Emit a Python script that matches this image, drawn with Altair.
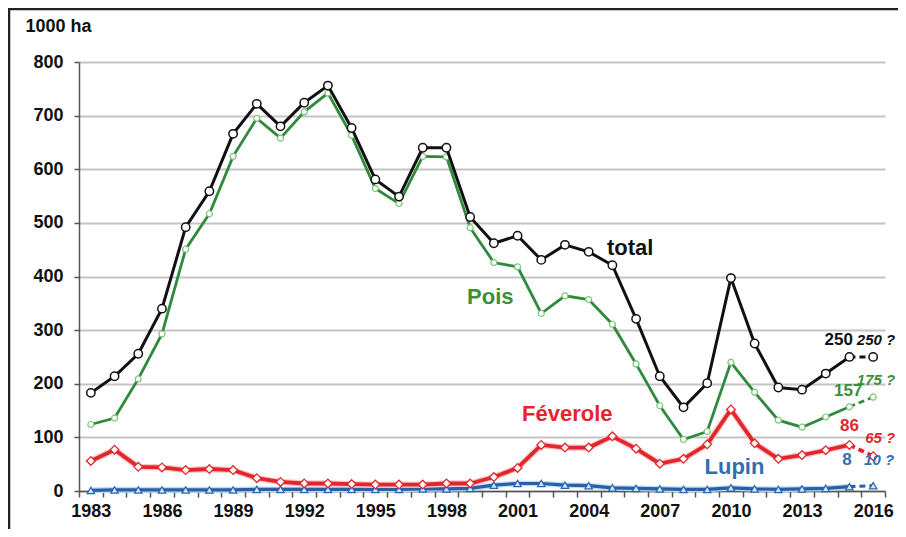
import altair as alt
import pandas as pd

years = list(range(1983, 2017))
total = [183, 214, 256, 340, 492, 559, 666, 722, 680, 724, 756, 677, 581, 549, 640, 640, 511,
         462, 476, 431, 459, 446, 421, 321, 214, 156, 201, 397, 275, 193, 189, 219, 250, 250]
pois = [124, 136, 209, 293, 451, 517, 624, 695, 658, 707, 742, 663, 564, 536, 624, 623, 491,
        426, 418, 331, 364, 357, 311, 237, 159, 96, 111, 240, 184, 132, 119, 138, 157, 175]
feverole = [56, 77, 45, 44, 39, 41, 39, 24, 17, 14, 14, 13, 12, 12, 12, 14, 14,
            26, 43, 86, 81, 81, 102, 79, 51, 60, 87, 152, 89, 60, 67, 76, 86, 65]
lupin = [1, 2, 2, 2, 2, 2, 2, 3, 3, 3, 3, 3, 3, 3, 4, 4, 5,
         11, 14, 14, 11, 10, 6, 5, 4, 3, 3, 6, 4, 3, 4, 5, 8, 10]

# series labels
lab_text = ["total", "Pois", "Féverole", "Lupin"]
lab_year = [2005.75, 1999.85, 2003.1, 2010.15]
lab_value = [454, 361, 143, 45]

# end values
num_text = ["250", "157", "86", "8"]
num_serie = ["total", "Pois", "Féverole", "Lupin"]
num_year = [2014.55, 2014.95, 2015.0, 2014.9]
num_value = [281, 187, 121, 57]

q_text = ["250 ?", "175 ?", "65 ?", "10 ?"]
q_serie = ["total", "Pois", "Féverole", "Lupin"]
q_year = [2016.12, 2016.12, 2016.3, 2016.25]
q_value = [281, 207, 98, 57]

tick_years = [1982.5 + i for i in range(35)]

colors = {"total": "#111111", "Pois": "#2f8a3c", "Féverole": "#e3262b", "Lupin": "#2a5fa8"}
halo = {"Féverole": "#f8c8c8", "Lupin": "#b8def3"}
txt_colors = {"total": "#111111", "Pois": "#3a8f3a", "Féverole": "#e3262b", "Lupin": "#2f6fb3"}

rows = []
for name, vals in [("total", total), ("Pois", pois), ("Féverole", feverole), ("Lupin", lupin)]:
    for yr, v in zip(years, vals):
        rows.append({"serie": name, "year": yr, "value": v})
df = pd.DataFrame(rows)

lab_df = pd.DataFrame({"text": lab_text, "serie": lab_text, "year": lab_year, "value": lab_value})
num_df = pd.DataFrame({"text": num_text, "serie": num_serie, "year": num_year, "value": num_value})
q_df = pd.DataFrame({"text": q_text, "serie": q_serie, "year": q_year, "value": q_value})

FONT = "Liberation Sans"

x_enc = alt.X(
    "year:Q",
    scale=alt.Scale(domain=[1982.5, 2016.5], nice=False, zero=False),
    axis=alt.Axis(
        values=tick_years,
        labelExpr="(round(datum.value + 0.5) - 1983) % 3 == 0 ? '' + round(datum.value + 0.5) : ''",
        labelOffset=11.85,
        labelFlush=False,
        labelOverlap=False,
        labelFontSize=18,
        labelFontWeight="bold",
        labelColor="#111",
        labelPadding=5,
        tickSize=6,
        tickColor="#555",
        tickWidth=1.5,
        domainColor="#555",
        domainWidth=1.5,
        grid=False,
        title=None,
    ),
)
y_enc = alt.Y(
    "value:Q",
    scale=alt.Scale(domain=[0, 800], nice=False),
    axis=alt.Axis(
        values=list(range(0, 801, 100)),
        labelFontSize=18,
        labelFontWeight="bold",
        labelColor="#111",
        labelPadding=11,
        tickSize=5,
        tickColor="#555",
        tickWidth=1.5,
        domainColor="#555",
        domainWidth=1.5,
        grid=True,
        gridColor="#c4c4c4",
        gridWidth=2,
        title="1000 ha",
        titleAngle=0,
        titleAlign="left",
        titleBaseline="alphabetic",
        titleX=-54,
        titleY=-31,
        titleFontSize=18,
        titleFontWeight="bold",
        titleColor="#111",
    ),
)

color_scale = alt.Scale(domain=list(txt_colors.keys()), range=list(txt_colors.values()))

marker = {
    "total": dict(shape="circle", size=70, fill="white", stroke="#111111", strokeWidth=1.5),
    "Pois": dict(shape="circle", size=36, fill="white", stroke="#7cc47c", strokeWidth=1.2),
    "Féverole": dict(shape="diamond", size=75, fill="white", stroke="#e3262b", strokeWidth=1.3),
    "Lupin": dict(shape="triangle-up", size=55, fill="#cfeaf7", stroke="#2a64ad", strokeWidth=1.2),
}
widths = {"total": 3, "Pois": 2.8, "Féverole": 3.8, "Lupin": 3.2}

layers = []
for name in ["Lupin", "Féverole", "Pois", "total"]:
    base = alt.Chart(df).transform_filter(alt.datum.serie == name)
    if name in halo:
        layers.append(
            base.transform_filter(alt.datum.year <= 2015)
            .mark_line(color=halo[name], strokeWidth=widths[name] + 2.5)
            .encode(x=x_enc, y=y_enc)
        )
    layers.append(
        base.transform_filter(alt.datum.year <= 2015)
        .mark_line(color=colors[name], strokeWidth=widths[name])
        .encode(x=x_enc, y=y_enc)
    )
    layers.append(
        base.transform_filter(alt.datum.year >= 2015)
        .mark_line(color=colors[name], strokeWidth=widths[name], strokeDash=[6, 4])
        .encode(x=x_enc, y=y_enc)
    )
    m = marker[name]
    layers.append(
        base.mark_point(
            filled=True, shape=m["shape"], size=m["size"], fill=m["fill"], stroke=m["stroke"],
            strokeWidth=m["strokeWidth"], opacity=1, fillOpacity=1,
        ).encode(x=x_enc, y=y_enc)
    )

layers.append(
    alt.Chart(lab_df).mark_text(font=FONT, fontSize=22, fontWeight="bold", align="center", baseline="middle")
    .encode(x=x_enc, y=y_enc, text="text:N", color=alt.Color("serie:N", scale=color_scale, legend=None))
)
layers.append(
    alt.Chart(num_df).mark_text(font=FONT, fontSize=17, fontWeight="bold", align="center", baseline="middle")
    .encode(x=x_enc, y=y_enc, text="text:N", color=alt.Color("serie:N", scale=color_scale, legend=None))
)
layers.append(
    alt.Chart(q_df).mark_text(font=FONT, fontSize=15, fontWeight="bold", fontStyle="italic",
                              align="center", baseline="middle")
    .encode(x=x_enc, y=y_enc, text="text:N", color=alt.Color("serie:N", scale=color_scale, legend=None))
)

frame = pd.DataFrame({"k": [0]})
top_line = alt.Chart(frame).mark_rule(color="#222222", strokeWidth=2.5).encode(
    x=alt.value(-71), x2=alt.value(1000), y=alt.value(-53)
)
left_line = alt.Chart(frame).mark_rule(color="#222222", strokeWidth=2.5).encode(
    x=alt.value(-70), y=alt.value(-54), y2=alt.value(1000)
)
layers += [top_line, left_line]

chart = (
    alt.layer(*layers)
    .properties(
        width=806,
        height=429,
        autosize=alt.AutoSizeParams(type="none"),
        padding={"left": 71, "top": 54, "right": 13, "bottom": 38},
    )
    .configure(font=FONT, background="white")
    .configure_view(stroke=None)
)

chart.save("out.html", embed_options={"renderer": "svg", "actions": False})
